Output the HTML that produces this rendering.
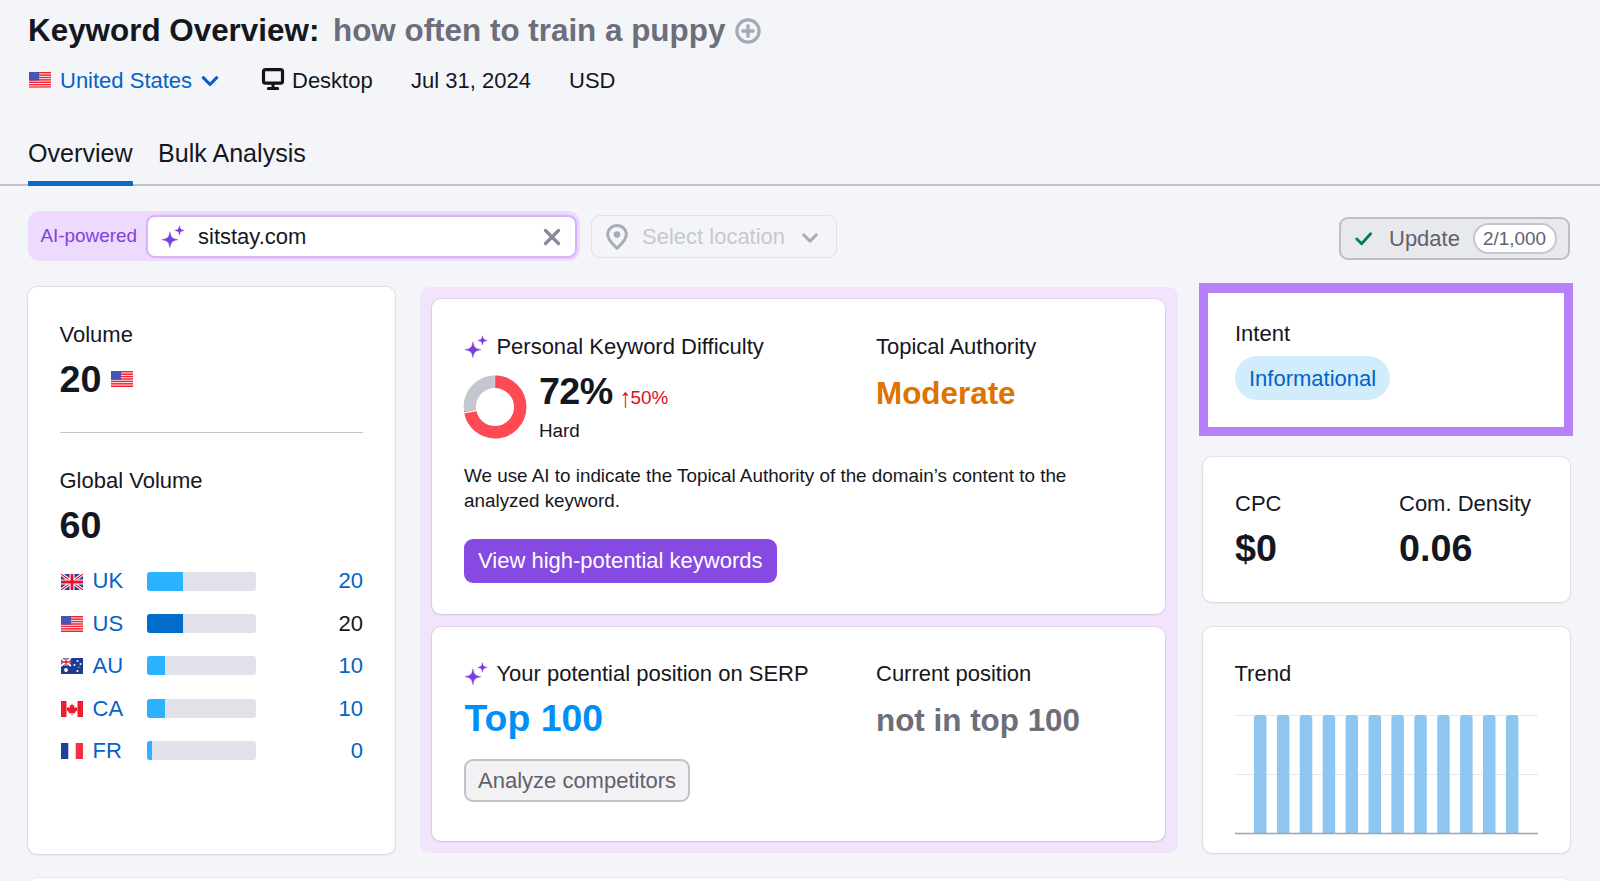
<!DOCTYPE html>
<html lang="en">
<head>
<meta charset="utf-8">
<title>Keyword Overview</title>
<style>
*{box-sizing:border-box;margin:0;padding:0}
html,body{width:1600px;height:881px;overflow:hidden}
body{background:#f4f5f9;font-family:"Liberation Sans",sans-serif;color:#15171e;font-size:22px;position:relative}
.abs{position:absolute;white-space:nowrap}
.t{position:absolute;white-space:nowrap;line-height:1}
.card{position:absolute;background:#fff;border-radius:9px;box-shadow:0 0 1px 1px rgba(25,27,35,.08),0 1px 3px rgba(25,27,35,.08)}
.b{font-weight:bold}
.blue{color:#0562c7}
.gray{color:#6c6e79}.gray2{color:#5f626d}
.s22{font-size:22px}
.s19{font-size:18.85px}
.s25{font-size:25.1px}
.s31{font-size:31.4px}
.s38{font-size:37.7px}
.bar{position:absolute;left:147.300px;width:108.400px;height:19px;background:#e0e1e9;border-radius:3px;overflow:hidden}
.bar i{display:block;height:100%;background:#2bb3ff}
.num{position:absolute;right:32px;text-align:right;line-height:1}
</style>
</head>
<body>
<svg width="0" height="0" style="position:absolute">
<defs>
<symbol id="us" viewBox="0 0 22 16"><rect width="22" height="16" fill="#fff"/><g fill="#f2222f"><rect y="0.00" width="22" height="1.5"/><rect y="2.42" width="22" height="1.5"/><rect y="4.83" width="22" height="1.5"/><rect y="7.25" width="22" height="1.5"/><rect y="9.67" width="22" height="1.5"/><rect y="12.08" width="22" height="1.5"/><rect y="14.50" width="22" height="1.5"/></g><rect width="10" height="8.700" fill="#4654b6"/></symbol>
<symbol id="uk" viewBox="0 0 22 16"><rect width="22" height="16" fill="#28398f"/><path d="M0 0l22 16M22 0L0 16" stroke="#fff" stroke-width="3.4"/><path d="M0 0l22 16M22 0L0 16" stroke="#e8112d" stroke-width="1.2"/><path d="M11 0v16M0 8h22" stroke="#fff" stroke-width="5"/><path d="M11 0v16M0 8h22" stroke="#e8112d" stroke-width="2.8"/></symbol>
<symbol id="au" viewBox="0 0 22 16"><rect width="22" height="16" fill="#1f3a93"/><path d="M0 0l10 8M10 0L0 8" stroke="#fff" stroke-width="1.8"/><path d="M5 0v8M0 4h10" stroke="#fff" stroke-width="2.6"/><path d="M5 0v8M0 4h10" stroke="#e8112d" stroke-width="1.3"/><g fill="#fff"><circle cx="5" cy="12" r="1.9"/><circle cx="16.5" cy="3" r="1"/><circle cx="13.500" cy="7" r="1"/><circle cx="19.500" cy="6" r="1"/><circle cx="16.500" cy="13" r="1.100"/><circle cx="17.800" cy="9" r=".6"/></g></symbol>
<symbol id="ca" viewBox="0 0 22 16"><rect width="22" height="16" fill="#fff"/><rect width="5.500" height="16" fill="#ee1c2e"/><rect x="16.500" width="5.500" height="16" fill="#ee1c2e"/><path d="M11 2.500l1.100 2.100 1.300-.5-.5 3 1.600-1.400.4 1 1.800-.3-.8 2 .8.500-2.900 2.300.4 1.300-2.800-.4v2.400h-.8v-2.400l-2.800.4.400-1.300-2.900-2.300.8-.5-.8-2 1.800.3.400-1 1.600 1.400-.5-3 1.300.5z" fill="#ee1c2e"/></symbol>
<symbol id="fr" viewBox="0 0 22 16"><rect width="22" height="16" fill="#fff"/><rect width="7.300" height="16" fill="#1f3f9f"/><rect x="14.700" width="7.300" height="16" fill="#f4323f"/></symbol>
<symbol id="spark" viewBox="0 0 26 26"><path d="M9.90 7.70Q10.90 12.80 12.15 13.45Q12.80 14.70 17.90 15.70Q12.80 16.70 12.15 17.95Q10.90 18.60 9.90 23.70Q8.90 18.60 7.65 17.95Q7.00 16.70 1.90 15.70Q7.00 14.70 7.65 13.45Q8.90 12.80 9.90 7.70z" fill="#7a3ee0" stroke="#7a3ee0" stroke-width=".4" stroke-linejoin="round"/><path d="M19.45 1.60Q20.05 4.70 20.75 5.10Q21.15 5.80 24.25 6.40Q21.15 7.00 20.75 7.70Q20.05 8.10 19.45 11.20Q18.85 8.10 18.15 7.70Q17.75 7.00 14.65 6.40Q17.75 5.80 18.15 5.10Q18.85 4.70 19.45 1.60z" fill="#7a3ee0" stroke="#7a3ee0" stroke-width=".3" stroke-linejoin="round"/></symbol>
</defs>
</svg>
<!-- HEADER -->
<div class="t b s31" style="left:28px;top:15px">Keyword Overview:</div>
<div class="t b s31 gray" style="left:333px;top:15px">how often to train a puppy</div>
<svg class="abs" style="left:734.750px;top:17.500px" width="26" height="26" viewBox="0 0 26 26"><circle cx="13" cy="13" r="11.100" fill="none" stroke="#a6a9b4" stroke-width="3.200"/><path d="M13 7.800v10.400M7.800 13h10.400" stroke="#a6a9b4" stroke-width="3.400" stroke-linecap="round"/></svg>

<!-- meta row -->
<svg class="abs" style="left:29px;top:72px" width="22.200" height="15.800" viewBox="0 0 22 16" preserveAspectRatio="none"><use href="#us"/></svg>
<div class="t blue" style="left:60px;top:70px">United States</div>
<svg class="abs" style="left:201.400px;top:74px" width="18" height="14" viewBox="0 0 18 14"><path d="M2.300 3.600l6.700 6.900 6.700-6.900" fill="none" stroke="#0562c7" stroke-width="3.100" stroke-linecap="round" stroke-linejoin="round"/></svg>
<svg class="abs" style="left:261px;top:67px" width="24" height="24" viewBox="0 0 24 24"><rect x="2.500" y="2.600" width="19" height="13.600" rx="2" fill="none" stroke="#12141a" stroke-width="3.200"/><path d="M12 17v3.500M7.300 21.400h9.400" stroke="#12141a" stroke-width="3" stroke-linecap="round"/></svg>
<div class="t" style="left:292px;top:70px">Desktop</div>
<div class="t" style="left:411px;top:70px">Jul 31, 2024</div>
<div class="t" style="left:569px;top:70px">USD</div>

<!-- tabs -->
<div class="t s25" style="left:28px;top:140.500px">Overview</div>
<div class="t s25" style="left:158px;top:140.500px">Bulk Analysis</div>
<div class="abs" style="left:0;top:184.400px;width:1600px;height:1.600px;background:#c0c3cc"></div>
<div class="abs" style="left:27.800px;top:181.300px;width:104.800px;height:4.400px;background:#0a6aca;border-radius:1px 1px 0 0"></div>

<!-- toolbar -->
<div class="abs" style="left:27.700px;top:211.300px;width:552px;height:50px;background:#eddafd;border-radius:12px"></div>
<div class="t s19" style="left:40.500px;top:227.100px;color:#8040e0">AI-powered</div>
<div class="abs" style="left:146.200px;top:214.500px;width:430.800px;height:43.200px;background:#fff;border:2px solid #d9b4fc;border-radius:9px;box-shadow:0 0 0 .5px #e3c6fd"></div>
<svg class="abs" style="left:159.950px;top:223.870px" width="26" height="26"><use href="#spark"/></svg>
<div class="t" style="left:198px;top:226px">sitstay.com</div>
<svg class="abs" style="left:542px;top:227px" width="20" height="20" viewBox="0 0 20 20"><path d="M3.500 3.500l13 13M16.500 3.500l-13 13" stroke="#878b97" stroke-width="3.300" stroke-linecap="round"/></svg>

<div class="abs" style="left:590.500px;top:214.700px;width:246px;height:43.500px;border:1.500px solid #dfe0e8;border-radius:9px;background:#f4f5f9"></div>
<svg class="abs" style="left:604px;top:222.500px" width="26" height="28" viewBox="0 0 26 28"><path d="M13 2.600c-5.300 0-9.300 4-9.300 9 0 5.900 6.300 10.700 9.300 13.600 3-2.900 9.300-7.700 9.300-13.600 0-5-4-9-9.300-9z" fill="none" stroke="#a9abb6" stroke-width="3" stroke-linejoin="round"/><circle cx="13" cy="11.600" r="3.300" fill="#a9abb6"/></svg>
<div class="t" style="left:642px;top:226px;color:#c6c8d1">Select location</div>
<svg class="abs" style="left:801px;top:230.500px" width="18" height="14" viewBox="0 0 18 14"><path d="M2.600 3.800l6.400 6.400 6.400-6.400" fill="none" stroke="#a9abb6" stroke-width="3" stroke-linecap="round" stroke-linejoin="round"/></svg>

<div class="abs" style="left:1338.500px;top:216.500px;width:231px;height:43.500px;background:#e8e9ed;border:2px solid #bcbfc8;border-radius:9px"></div>
<svg class="abs" style="left:1353px;top:227.500px" width="21" height="21" viewBox="0 0 22 22"><path d="M4 11.500l5 5 9.500-10.500" fill="none" stroke="#007c65" stroke-width="3" stroke-linecap="round" stroke-linejoin="round"/></svg>
<div class="t gray2" style="left:1389px;top:227.500px">Update</div>
<div class="abs" style="left:1473px;top:222.500px;width:84px;height:31.500px;background:#fff;border:2px solid #c4c7cf;border-radius:16px"></div>
<div class="t s19 gray2" style="left:1483px;top:229.500px">2/1,000</div>

<!-- LEFT CARD -->
<div class="card" style="left:28px;top:287px;width:366.600px;height:566.500px"></div>
<div class="t" style="left:59.500px;top:323.500px">Volume</div>
<div class="t b s38" style="left:59.500px;top:360.600px">20</div>
<div class="abs" style="left:59.500px;top:431.500px;width:303px;height:1.500px;background:#c4c7cf"></div>
<div class="t" style="left:59.500px;top:469.500px">Global Volume</div>
<div class="t b s38" style="left:59.500px;top:506.600px">60</div>

<!-- volume flag -->
<svg class="abs" style="left:111px;top:371px" width="22" height="16"><use href="#us"/></svg>
<!-- country rows -->
<svg class="abs" style="left:60.800px;top:573.5px" width="22" height="16"><use href="#uk"/></svg>
<div class="t blue" style="left:92.500px;top:570.3px">UK</div>
<div class="bar" style="top:571.5px"><i style="width:36px;background:#2bb3ff"></i></div>
<div class="t num blue" style="right:1237px;top:570.3px">20</div>
<svg class="abs" style="left:60.800px;top:615.9px" width="22" height="16"><use href="#us"/></svg>
<div class="t blue" style="left:92.500px;top:612.7px">US</div>
<div class="bar" style="top:613.9px"><i style="width:36px;background:#006dca"></i></div>
<div class="t num" style="right:1237px;top:612.7px">20</div>
<svg class="abs" style="left:60.800px;top:658.4px" width="22" height="16"><use href="#au"/></svg>
<div class="t blue" style="left:92.500px;top:655.2px">AU</div>
<div class="bar" style="top:656.4px"><i style="width:18px;background:#2bb3ff"></i></div>
<div class="t num blue" style="right:1237px;top:655.2px">10</div>
<svg class="abs" style="left:60.800px;top:700.8px" width="22" height="16"><use href="#ca"/></svg>
<div class="t blue" style="left:92.500px;top:697.6px">CA</div>
<div class="bar" style="top:698.8px"><i style="width:18px;background:#2bb3ff"></i></div>
<div class="t num blue" style="right:1237px;top:697.6px">10</div>
<svg class="abs" style="left:60.800px;top:743.2px" width="22" height="16"><use href="#fr"/></svg>
<div class="t blue" style="left:92.500px;top:740.0px">FR</div>
<div class="bar" style="top:741.2px"><i style="width:4.5px;background:#2bb3ff"></i></div>
<div class="t num blue" style="right:1237px;top:740.0px">0</div>

<!-- MIDDLE -->
<div class="abs" style="left:420px;top:287px;width:757.500px;height:565.800px;background:#f1e4fc;border-radius:9px"></div>
<div class="card" style="left:432px;top:299.300px;width:733.300px;height:314.700px"></div>
<div class="card" style="left:432px;top:626.700px;width:733.300px;height:214.800px"></div>

<!-- card 1 content -->
<svg class="abs" style="left:463.040px;top:333.960px" width="26" height="26"><use href="#spark"/></svg>
<div class="t" style="left:496.400px;top:335.500px">Personal Keyword Difficulty</div>
<svg class="abs" style="left:463.300px;top:374.900px" width="64" height="64" viewBox="0 0 64 64"><circle cx="32" cy="32" r="25.25" fill="none" stroke="#c4c7cf" stroke-width="12.300"/><circle cx="32" cy="32" r="25.25" fill="none" stroke="#ff4953" stroke-width="12.300" stroke-dasharray="114.23 158.65" transform="rotate(-90 32 32)"/><path d="M14.32 35.37L-0.42 38.18" stroke="#fff" stroke-width="1.200"/><path d="M32 0v13" stroke="#fff" stroke-width=".3"/></svg>
<div class="t b s38" style="left:539px;top:372.500px;letter-spacing:-.6px">72%</div>
<div class="t s19" style="left:621px;top:388.800px;color:#db0d22"><span id="arr" style="display:inline-block;transform:translateY(.200px) scale(1.250,1.460)">↑</span><span id="pct">50%</span></div>
<div class="t s19" style="left:539px;top:422px">Hard</div>
<div class="t s19" style="left:464px;top:462.500px;line-height:25px;white-space:normal;width:640px">We use AI to indicate the Topical Authority of the domain’s content to the analyzed keyword.</div>
<div class="abs" style="left:463.600px;top:538.600px;width:313px;height:44px;background:#8649e1;border-radius:9px"></div>
<div class="t" style="left:478px;top:550px;color:#fff">View high-potential keywords</div>
<div class="t" style="left:876px;top:335.500px">Topical Authority</div>
<div class="t b s31" style="left:876px;top:378px;color:#dd7300">Moderate</div>

<!-- card 2 content -->
<svg class="abs" style="left:463.040px;top:661.190px" width="26" height="26"><use href="#spark"/></svg>
<div class="t" style="left:496.400px;top:662.500px">Your potential position on SERP</div>
<div class="t b s38" style="left:464.500px;top:699.500px;color:#008ff8;font-size:37.400px">Top 100</div>
<div class="abs" style="left:464px;top:759px;width:226px;height:43.300px;background:#f2f2f4;border:2px solid #bfc2cb;border-radius:9px"></div>
<div class="t gray2" style="left:478px;top:770.200px">Analyze competitors</div>
<div class="t" style="left:876px;top:662.500px">Current position</div>
<div class="t b s31 gray" style="left:876px;top:705px">not in top 100</div>

<!-- RIGHT -->
<div class="abs" style="left:1199px;top:283px;width:374px;height:152.700px;background:#fff;border:solid #b77ffa;border-width:10px 9px 9.500px 9px"></div>
<div class="card" style="left:1203px;top:457px;width:366.800px;height:144.800px"></div>
<div class="card" style="left:1203px;top:626.700px;width:366.800px;height:226.800px"></div>

<!-- intent -->
<div class="t" style="left:1235px;top:323px">Intent</div>
<div class="abs" style="left:1235px;top:356px;width:155px;height:44px;background:#d1ecfb;border-radius:22px"></div>
<div class="t blue" style="left:1249px;top:367.500px">Informational</div>
<!-- cpc -->
<div class="t" style="left:1235px;top:493px">CPC</div>
<div class="t b s38" style="left:1235px;top:530px">$0</div>
<div class="t" style="left:1399px;top:493px">Com. Density</div>
<div class="t b s38" style="left:1399px;top:530px">0.06</div>
<!-- trend -->
<div class="t" style="left:1234.500px;top:662.500px">Trend</div>
<svg class="abs" style="left:1235px;top:710px" width="304" height="128" viewBox="0 0 304 128">
<path d="M0 5.500h303M0 64.500h303" stroke="#e6e7ed" stroke-width="1"/>
<g fill="#8dc6f0">
<path d="M19.0 123V8a3 3 0 0 1 3-3h6.500a3 3 0 0 1 3 3v115z"/>
<path d="M41.9 123V8a3 3 0 0 1 3-3h6.500a3 3 0 0 1 3 3v115z"/>
<path d="M64.8 123V8a3 3 0 0 1 3-3h6.500a3 3 0 0 1 3 3v115z"/>
<path d="M87.7 123V8a3 3 0 0 1 3-3h6.500a3 3 0 0 1 3 3v115z"/>
<path d="M110.6 123V8a3 3 0 0 1 3-3h6.500a3 3 0 0 1 3 3v115z"/>
<path d="M133.5 123V8a3 3 0 0 1 3-3h6.500a3 3 0 0 1 3 3v115z"/>
<path d="M156.4 123V8a3 3 0 0 1 3-3h6.500a3 3 0 0 1 3 3v115z"/>
<path d="M179.3 123V8a3 3 0 0 1 3-3h6.500a3 3 0 0 1 3 3v115z"/>
<path d="M202.2 123V8a3 3 0 0 1 3-3h6.500a3 3 0 0 1 3 3v115z"/>
<path d="M225.1 123V8a3 3 0 0 1 3-3h6.500a3 3 0 0 1 3 3v115z"/>
<path d="M248.0 123V8a3 3 0 0 1 3-3h6.500a3 3 0 0 1 3 3v115z"/>
<path d="M270.9 123V8a3 3 0 0 1 3-3h6.500a3 3 0 0 1 3 3v115z"/>
</g>
<path d="M0 123.500h303" stroke="#a0a4b0" stroke-width="1.300"/>
</svg>
<div class="card" style="left:28px;top:878px;width:1542px;height:20px;box-shadow:0 0 1px 1px rgba(25,27,35,.05)"></div>
</body>
</html>
